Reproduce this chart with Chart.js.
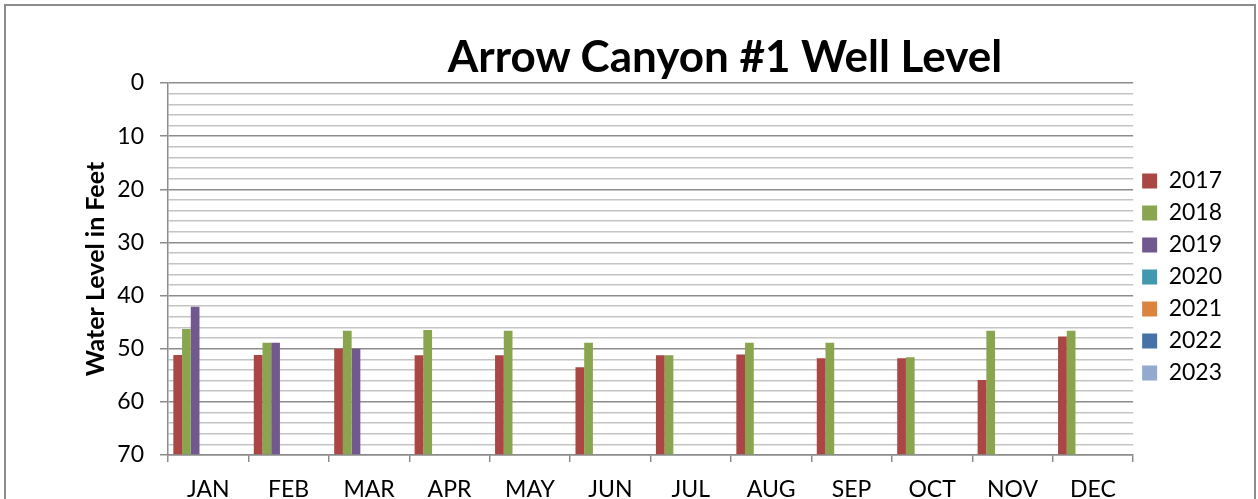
<!DOCTYPE html>
<html>
<head>
<meta charset="utf-8">
<script src="https://cdn.jsdelivr.net/npm/chart.js@4.4.1/dist/chart.umd.min.js"></script>
<style>
    html, body { margin: 0; padding: 0; background: #fff; overflow: hidden; }
    #frame {
        position: absolute; left: 4px; top: 4px; width: 1248px; height: 520px;
        border: 2px solid #8c8c8c;
    }
    #title {
        position: absolute; left: 725px; top: 33px; transform: translateX(-50%);
        font: bold 44px/44px Lato, sans-serif; color: #000; white-space: nowrap;
    }
    #wrap { position: absolute; left: 0; top: 0; width: 1258px; height: 499px; }
</style>
</head>
<body>
<div id="frame"></div>
<div id="wrap"><canvas id="chart"></canvas></div>
<div id="title">Arrow Canyon #1 Well Level</div>
<script>
// months on the category axis
const months = ['JAN', 'FEB', 'MAR', 'APR', 'MAY', 'JUN', 'JUL', 'AUG', 'SEP', 'OCT', 'NOV', 'DEC'];

// water level in feet (depth below surface)
const y2017 = [51.2, 51.2, 50.0, 51.25, 51.25, 53.5, 51.25, 51.1, 51.8, 51.8, 55.9, 47.7];
const y2018 = [46.3, 48.9, 46.6, 46.5, 46.6, 48.9, 51.25, 48.9, 48.9, 51.6, 46.6, 46.6];
const y2019 = [42.1, 48.9, 50.0, null, null, null, null, null, null, null, null, null];
const y2020 = [];
const y2021 = [];
const y2022 = [];
const y2023 = [];
const yBlank = []; // empty slot series in the source sheet (no legend entry)

const seriesNames = ['2017', '2018', '2019', '2020', '2021', '2022', '2023', ''];
const seriesData = [y2017, y2018, y2019, y2020, y2021, y2022, y2023, yBlank];
const seriesColors = ['#AA4643', '#89A54E', '#71588F', '#4198AF', '#DB843D', '#4572A7', '#93A9CF', '#AA4643'];

const FONT = 'Lato, sans-serif';

const datasets = seriesNames.map((name, i) => ({
    label: name,
    data: seriesData[i],
    backgroundColor: seriesColors[i],
    borderWidth: 0,
    base: 70
}));

new Chart(document.getElementById('chart'), {
    type: 'bar',
    data: { labels: months, datasets },
    options: {
        responsive: true,
        maintainAspectRatio: false,
        animation: false,
        datasets: { bar: { categoryPercentage: 0.867, barPercentage: 1 } },
        layout: { padding: { left: 81, right: 26, top: 83, bottom: 0 } },
        plugins: {
            tooltip: { enabled: false },
            legend: {
                position: 'right',
                fullSize: false,
                title: { display: true, text: ' ', padding: 2, font: { size: 10 } },
                labels: {
                    boxWidth: 15,
                    boxHeight: 15,
                    padding: 9,
                    color: '#000',
                    font: { family: FONT, size: 23 },
                    filter: item => item.text !== ''
                }
            }
        },
        scales: {
            x: {
                grid: {
                    offset: true,
                    drawOnChartArea: false,
                    drawTicks: true,
                    tickLength: 7,
                    color: '#8c8c8c',
                    lineWidth: 1.5
                },
                border: { color: '#8c8c8c', width: 1.5 },
                ticks: { color: '#000', padding: 14, font: { family: FONT, size: 23 } },
                afterFit: s => { s.height = 44; }
            },
            y: {
                reverse: true,
                min: 0,
                max: 70,
                grid: {
                    tickLength: 8,
                    lineWidth: 1.5,
                    color: ctx => ctx.tick && ctx.tick.value % 10 === 0 ? '#8c8c8c' : '#c4c4c4',
                    tickColor: ctx => ctx.tick && ctx.tick.value % 10 === 0 ? '#8c8c8c' : 'rgba(0,0,0,0)'
                },
                border: { color: '#8c8c8c', width: 1.5 },
                ticks: {
                    stepSize: 2,
                    autoSkip: false,
                    padding: 16,
                    color: '#000',
                    font: { family: FONT, size: 23 },
                    callback: v => (v % 10 === 0 ? v : '')
                },
                title: {
                    display: true,
                    text: 'Water Level in Feet',
                    color: '#000',
                    padding: 0,
                    font: { family: FONT, size: 25, weight: 'bold' }
                },
                afterFit: s => { s.width = 87; }
            }
        }
    }
});
</script>
</body>
</html>
